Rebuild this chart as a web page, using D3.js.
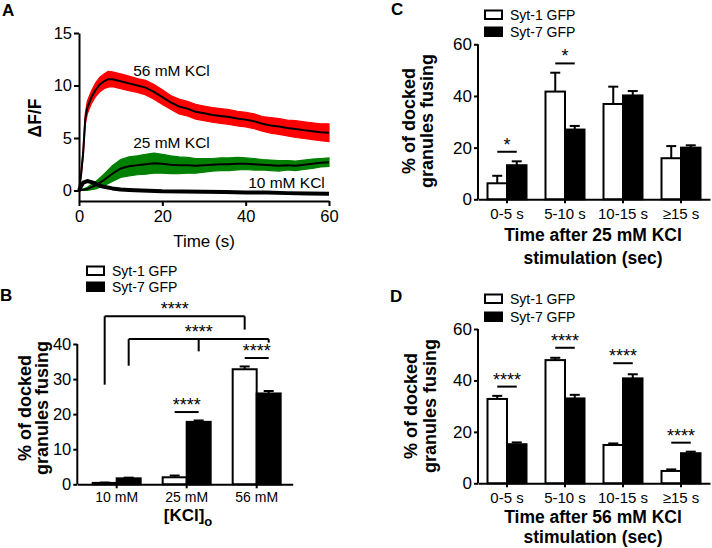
<!DOCTYPE html>
<html><head><meta charset="utf-8">
<script src="https://cdn.jsdelivr.net/npm/d3@7"></script>
<style>
body{margin:0;background:#fff}
svg{display:block}
text{font-family:"Liberation Sans",Arial,Helvetica,sans-serif;fill:#000}
</style>
</head><body>
<svg width="712" height="548"></svg>
<script>
// ---------------- Panel A data (ΔF/F traces) ----------------
const tA56    = [0,0.5,1,1.5,2,3,4,5,6,7,8,9,10,12,14,16,18,20,22,24,26,28,30,32,34,36,38,40,42,44,46,48,50,52,54,56,58,60];
const meanA56 = [0,1.5,3.6,6.8,7.9,8.9,9.6,10.1,10.4,10.6,10.6,10.5,10.4,10.2,10.0,9.8,9.4,8.9,8.4,8.0,7.8,7.5,7.35,7.2,7.1,7.0,6.85,6.75,6.6,6.35,6.2,6.1,5.95,5.85,5.75,5.65,5.55,5.5];
const semA56  = [0,0.2,0.4,0.5,0.6,0.6,0.65,0.7,0.7,0.75,0.7,0.7,0.7,0.7,0.65,0.7,0.7,0.7,0.65,0.7,0.7,0.7,0.7,0.7,0.7,0.7,0.7,0.7,0.7,0.7,0.75,0.75,0.75,0.8,0.8,0.8,0.8,0.85];
const tA25    = [0,2,4,6,8,10,12,14,16,18,20,22,24,26,28,30,32,34,36,38,40,42,44,46,48,50,52,54,56,58,60];
const meanA25 = [0,0.15,0.5,1.0,1.6,2.1,2.3,2.4,2.5,2.6,2.55,2.45,2.4,2.4,2.35,2.4,2.45,2.5,2.5,2.55,2.55,2.5,2.45,2.4,2.35,2.4,2.35,2.45,2.55,2.65,2.7];
const semA25  = [0,0.15,0.35,0.55,0.75,0.85,0.9,0.9,0.95,0.95,0.9,0.85,0.8,0.75,0.7,0.65,0.6,0.6,0.6,0.6,0.55,0.55,0.5,0.5,0.5,0.45,0.45,0.45,0.45,0.4,0.4];
const tA10    = [0,0.5,1,2,3,4,5,6,8,10,12,15,20,25,30,35,40,45,50,55,60];
const meanA10 = [0,0.4,0.75,0.9,0.8,0.65,0.45,0.35,0.2,0.1,0.05,0,-0.08,-0.1,-0.12,-0.15,-0.18,-0.2,-0.25,-0.28,-0.3];
const xTicksA = [0,20,40,60];
const yTicksA = [0,5,10,15];
const traceLabelsA = ["56 mM KCl","25 mM KCl","10 mM KCl"];
const traceLabelT  = [13,13,40.6];
const traceLabelV  = [10.9,4.05,0.21];

// ---------------- Shared series ----------------
const seriesNames = ["Syt-1 GFP","Syt-7 GFP"];

// ---------------- Panel B data ----------------
const categoriesB = ["10 mM","25 mM","56 mM"];
const syt1B    = [0.4,2.0,32.8];
const syt1BErr = [0.1,0.5,0.8];
const syt7B    = [1.7,17.8,25.9];
const syt7BErr = [0.2,0.4,0.7];
const yTicksB  = [0,10,20,30,40];
const pairSigB = [{cat:"25 mM", y:20.6, label:"****"},{cat:"56 mM", y:36, label:"****"}];
const bracketsB = [
  {y:47.9, label:"****", labelCat:"25 mM", labelSeries:0, legs:[{cat:"10 mM",s:0,to:28.4},{cat:"56 mM",s:0,to:44.1}]},
  {y:41.4, label:"****", labelCat:"25 mM", labelSeries:1, legs:[{cat:"10 mM",s:1,to:33.8},{cat:"25 mM",s:1,to:37.9},{cat:"56 mM",s:1,to:40.4}]}
];

// ---------------- Panel C data ----------------
const categoriesCD = ["0-5 s","5-10 s","10-15 s","\u226515 s"];
const syt1C    = [6.2,41.7,36.9,15.9];
const syt1CErr = [2.9,7.3,6.7,4.7];
const syt7C    = [13.2,27.0,40.2,20.0];
const syt7CErr = [1.5,1.4,1.7,0.9];
const sigC = [{cat:"0-5 s", y:18.4, label:"*"},{cat:"5-10 s", y:52.6, label:"*"}];

// ---------------- Panel D data ----------------
const syt1D    = [32.8,47.9,14.9,4.8];
const syt1DErr = [1.2,0.9,0.6,0.6];
const syt7D    = [15.2,33.0,40.8,11.7];
const syt7DErr = [0.7,1.4,1.6,0.6];
const sigD = [{cat:"0-5 s", y:37.6, label:"****"},{cat:"5-10 s", y:52.7, label:"****"},{cat:"10-15 s", y:46.7, label:"****"},{cat:"\u226515 s", y:15.8, label:"****"}];
const yTicksCD = [0,20,40,60];

// ================= drawing =================
const svg = d3.select("svg");
const FONT = '"Liberation Sans", Arial, Helvetica, sans-serif';

function styleAxis(g, fs){
  g.attr("font-family", FONT);
  g.select(".domain").attr("stroke","#000").attr("stroke-width",2);
  g.selectAll(".tick line").attr("stroke","#000").attr("stroke-width",2);
  g.selectAll(".tick text").attr("fill","#000").style("font-size", fs+"px");
}
function txt(g, x, y, s, fs, opts={}){
  const t = g.append("text").attr("x",x).attr("y",y).text(s).style("font-size",fs+"px");
  if(opts.bold) t.style("font-weight","bold");
  if(opts.anchor) t.attr("text-anchor",opts.anchor);
  if(opts.rotate) t.attr("transform",`rotate(-90,${x},${y})`);
  return t;
}

// ---------- Panel A ----------
(function(){
  const g = svg.append("g");
  const x = d3.scaleLinear().domain([0,60]).range([79,329]);
  const y = d3.scaleLinear().domain([-1,15]).range([201,33]);
  const traces = [
    {t:tA25, m:meanA25, s:semA25, col:"#008000"},
    {t:tA56, m:meanA56, s:semA56, col:"#ff0000"}
  ];
  traces.forEach(tr=>{
    const pts = tr.t.map((t,i)=>({t, m:tr.m[i], s:tr.s[i]}));
    g.append("path").datum(pts)
      .attr("d", d3.area().x(d=>x(d.t)).y0(d=>y(d.m-d.s)).y1(d=>y(d.m+d.s)))
      .attr("fill", tr.col).attr("stroke", tr.col).attr("stroke-width",1.2);
    g.append("path").datum(pts)
      .attr("d", d3.line().x(d=>x(d.t)).y(d=>y(d.m)))
      .attr("fill","none").attr("stroke","#000").attr("stroke-width",2);
  });
  const p10 = tA10.map((t,i)=>({t, m:meanA10[i]}));
  g.append("path").datum(p10)
    .attr("d", d3.line().x(d=>x(d.t)).y(d=>y(d.m)))
    .attr("fill","none").attr("stroke","#000").attr("stroke-width",4).attr("stroke-linejoin","round");

  const ax = g.append("g").attr("transform",`translate(0,201)`)
    .call(d3.axisBottom(x).tickValues(xTicksA).tickSize(5).tickPadding(4).tickSizeOuter(0));
  styleAxis(ax, 16.5);
  const ay = g.append("g").attr("transform",`translate(79,0)`)
    .call(d3.axisLeft(y).tickValues(yTicksA).tickSize(5).tickPadding(2).tickSizeOuter(0));
  styleAxis(ay, 16.5);

  traceLabelsA.forEach((s,i)=> txt(g, x(traceLabelT[i]), y(traceLabelV[i]), s, 15.5));
  txt(g, 204, 247, "Time (s)", 17, {anchor:"middle"});
  txt(g, 41, 118, "\u0394F/F", 17.5, {anchor:"middle", bold:true, rotate:true});
  txt(g, 2, 16, "A", 17, {bold:true});
})();

// ---------- grouped bar panel helper ----------
function barPanel(cfg){
  const g = svg.append("g");
  const x0 = d3.scaleBand().domain(cfg.cats).range(cfg.xRange).paddingInner(0).paddingOuter(cfg.po||0).align(cfg.align==null?0.5:cfg.align);
  const x1 = d3.scaleBand().domain(seriesNames).range(cfg.innerRange).padding(0);
  const y = d3.scaleLinear().domain(cfg.yDomain).range(cfg.yRange);
  const vals = [cfg.s1, cfg.s7], errs = [cfg.e1, cfg.e7];
  const cx = (cat,s)=> x0(cat)+x1(seriesNames[s])+x1.bandwidth()/2;

  seriesNames.forEach((sn,si)=>{
    cfg.cats.forEach((c,ci)=>{
      const v = vals[si][ci], e = errs[si][ci];
      const xc = cx(c,si);
      g.append("line").attr("x1",xc).attr("x2",xc).attr("y1",y(v)).attr("y2",y(v+e))
        .attr("stroke","#000").attr("stroke-width",2);
      g.append("line").attr("x1",xc-5).attr("x2",xc+5).attr("y1",y(v+e)).attr("y2",y(v+e))
        .attr("stroke","#000").attr("stroke-width",2);
      g.append("rect").attr("x",x0(c)+x1(sn)).attr("width",x1.bandwidth())
        .attr("y",y(v)).attr("height",y(0)-y(v))
        .attr("fill", si===0?"#fff":"#000").attr("stroke","#000").attr("stroke-width",2);
    });
  });

  const ax = g.append("g").attr("transform",`translate(0,${y(0)})`)
    .call(d3.axisBottom(x0).tickSize(4).tickPadding(cfg.xPad).tickSizeOuter(0));
  styleAxis(ax, cfg.xFs);
  const ay = g.append("g").attr("transform",`translate(${cfg.xRange[0]},0)`)
    .call(d3.axisLeft(y).tickValues(cfg.yTicks).tickSize(4).tickPadding(2).tickSizeOuter(0));
  ay.select(".domain").attr("d", `M0,${y(0)}V${y(cfg.yTicks[cfg.yTicks.length-1])}`);
  styleAxis(ay, cfg.yFs);

  (cfg.pairs||[]).forEach(p=>{
    const a = cx(p.cat,0), b = cx(p.cat,1);
    g.append("line").attr("x1",a).attr("x2",b).attr("y1",y(p.y)).attr("y2",y(p.y))
      .attr("stroke","#000").attr("stroke-width",2);
    txt(g,(a+b)/2, y(p.y)-1, p.label, 18, {anchor:"middle"});
  });
  (cfg.brackets||[]).forEach(br=>{
    const xs = br.legs.map(l=>cx(l.cat,l.s));
    g.append("line").attr("x1",d3.min(xs)).attr("x2",d3.max(xs)).attr("y1",y(br.y)).attr("y2",y(br.y))
      .attr("stroke","#000").attr("stroke-width",2);
    br.legs.forEach(l=>{
      g.append("line").attr("x1",cx(l.cat,l.s)).attr("x2",cx(l.cat,l.s)).attr("y1",y(br.y)).attr("y2",y(l.to))
        .attr("stroke","#000").attr("stroke-width",2);
    });
    txt(g, cx(br.labelCat,br.labelSeries), y(br.y)-1, br.label, 18, {anchor:"middle"});
  });

  seriesNames.forEach((sn,i)=>{
    const ly = cfg.legY + i*cfg.legDy;
    g.append("rect").attr("x",cfg.legX).attr("y",ly-9.5).attr("width",17).attr("height",8.5)
      .attr("fill", i===0?"#fff":"#000").attr("stroke","#000").attr("stroke-width",2);
    txt(g, cfg.legX+25, ly, sn, 14);
  });

  txt(g, cfg.ylx1, cfg.ylY, "% of docked", 18, {anchor:"middle", bold:true, rotate:true});
  txt(g, cfg.ylx2, cfg.ylY, "granules fusing", 18, {anchor:"middle", bold:true, rotate:true});
  txt(g, cfg.letterX, cfg.letterY, cfg.letter, 17, {bold:true});
  return {g, x0, y};
}

// ---------- Panel B ----------
(function(){
  const r = barPanel({
    cats: categoriesB, xRange:[77.3,292.7], po:0.0386, align:0.81, innerRange:[11,59],
    yDomain:[0,40], yRange:[484.3,344], yTicks:yTicksB,
    s1:syt1B, e1:syt1BErr, s7:syt7B, e7:syt7BErr,
    pairs: pairSigB, brackets: bracketsB,
    xFs:14, yFs:16.5, xPad:4,
    legX:87, legY:276, legDy:16,
    ylx1:31, ylx2:48, ylY:408,
    letter:"B", letterX:0, letterY:301
  });
  const t = r.g.append("text").attr("x",188).attr("y",521).attr("text-anchor","middle")
    .style("font-size","17px").style("font-weight","bold");
  t.append("tspan").text("[KCl]");
  t.append("tspan").attr("dy",5).style("font-size","13px").text("o");
})();

// ---------- Panel C ----------
(function(){
  const r = barPanel({
    cats: categoriesCD, xRange:[478,710], innerRange:[9.5,48.5],
    yDomain:[0,60], yRange:[199.3,44.3], yTicks:yTicksCD,
    s1:syt1C, e1:syt1CErr, s7:syt7C, e7:syt7CErr,
    pairs: sigC,
    xFs:15, yFs:17, xPad:5,
    legX:485, legY:20, legDy:17,
    ylx1:415, ylx2:433, ylY:121,
    letter:"C", letterX:391, letterY:15
  });
  txt(r.g, 593, 241, "Time after 25 mM KCl", 17.5, {anchor:"middle", bold:true});
  txt(r.g, 593, 264, "stimulation (sec)", 17.5, {anchor:"middle", bold:true});
})();

// ---------- Panel D ----------
(function(){
  const r = barPanel({
    cats: categoriesCD, xRange:[478,710], innerRange:[9.5,48.5],
    yDomain:[0,60], yRange:[483.3,329], yTicks:yTicksCD,
    s1:syt1D, e1:syt1DErr, s7:syt7D, e7:syt7DErr,
    pairs: sigD,
    xFs:15, yFs:17, xPad:5,
    legX:485, legY:304, legDy:18,
    ylx1:417, ylx2:436, ylY:406,
    letter:"D", letterX:390, letterY:302
  });
  txt(r.g, 593, 523, "Time after 56 mM KCl", 17.5, {anchor:"middle", bold:true});
  txt(r.g, 593, 543, "stimulation (sec)", 17.5, {anchor:"middle", bold:true});
})();
</script>
</body></html>
